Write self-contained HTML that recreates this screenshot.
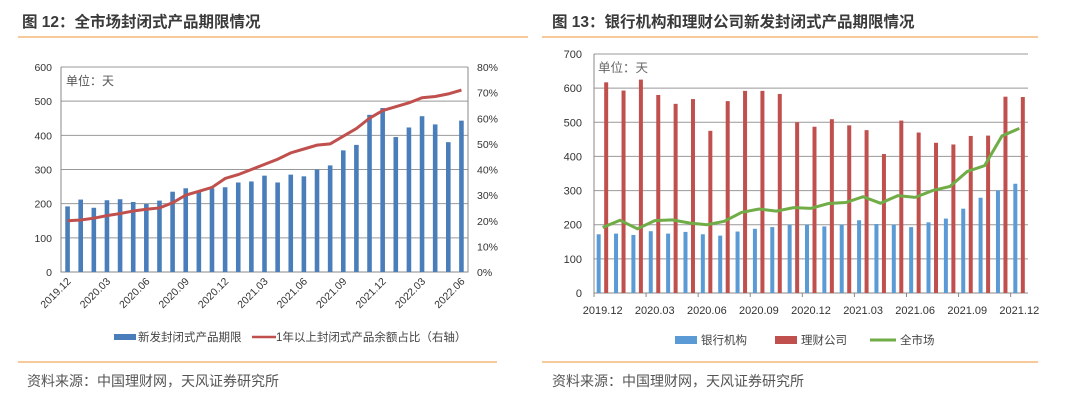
<!DOCTYPE html>
<html><head><meta charset="utf-8"><style>
body{margin:0;background:#fff;width:1080px;height:415px;overflow:hidden;font-family:"Liberation Sans","Noto Sans CJK SC",sans-serif}
svg text{font-family:"Liberation Sans","Noto Sans CJK SC",sans-serif}
</style></head><body>
<svg id="s" width="1080" height="415" xmlns="http://www.w3.org/2000/svg">
<text x="22" y="27" font-size="15.5" font-weight="bold" fill="#3a3a3a">图 12：全市场封闭式产品期限情况</text>
<line x1="18" y1="37" x2="528" y2="37" stroke="#f5b87a" stroke-width="1.5"/>
<text x="552" y="27" font-size="15.5" font-weight="bold" fill="#3a3a3a">图 13：银行机构和理财公司新发封闭式产品期限情况</text>
<line x1="542" y1="37" x2="1038" y2="37" stroke="#f5b87a" stroke-width="1.5"/>
<line x1="18" y1="362" x2="497" y2="362" stroke="#f5b87a" stroke-width="1.5"/>
<line x1="542" y1="362" x2="1038" y2="362" stroke="#f5b87a" stroke-width="1.5"/>
<text x="27" y="386" font-size="14" fill="#555">资料来源：中国理财网，天风证券研究所</text>
<text x="552" y="386" font-size="14" fill="#555">资料来源：中国理财网，天风证券研究所</text>
<g id="L"></g><g id="R"></g>
</svg>
<script>
const NS="http://www.w3.org/2000/svg";
function mk(p,t,a,txt){const e=document.createElementNS(NS,t);for(const k in a)e.setAttribute(k,a[k]);if(txt!==undefined)e.textContent=txt;p.appendChild(e);return e;}
// Left chart data
const leftMonths=["2019.12","2020.01","2020.02","2020.03","2020.04","2020.05","2020.06","2020.07","2020.08","2020.09","2020.10","2020.11","2020.12","2021.01","2021.02","2021.03","2021.04","2021.05","2021.06","2021.07","2021.08","2021.09","2021.10","2021.11","2021.12","2022.01","2022.02","2022.03","2022.04","2022.05","2022.06"];
const leftTerm=[192,212,188,210,213,205,199,209,235,245,238,245,248,262,265,282,262,285,280,300,312,356,372,460,480,395,423,456,432,380,443];
const leftShare=[20,20.3,21,22,22.8,23.8,24.5,25,27,30,31.5,33,36.5,38,40,42,44,46.5,48,49.5,50,53,56,60,63,64.5,66,68,68.5,69.5,71];
const leftTicks=[0,100,200,300,400,500,600];
const leftPctTicks=[0,10,20,30,40,50,60,70,80];
// Right chart data
const rightMonths=["2019.12","2020.01","2020.02","2020.03","2020.04","2020.05","2020.06","2020.07","2020.08","2020.09","2020.10","2020.11","2020.12","2021.01","2021.02","2021.03","2021.04","2021.05","2021.06","2021.07","2021.08","2021.09","2021.10","2021.11","2021.12"];
const bankTerm=[172,174,170,181,174,179,172,168,180,188,193,200,200,195,200,213,202,200,193,207,218,247,279,300,320];
const wmcTerm=[617,593,625,580,554,568,475,562,592,592,583,500,487,509,491,477,407,505,470,440,435,460,461,575,574];
const marketTerm=[192,213,188,212,214,205,200,210,236,246,240,250,248,262,265,282,263,285,280,300,312,356,373,460,482];
const rightTicks=[0,100,200,300,400,500,600,700];

// ---- Left
(function(){
const g=document.getElementById('L');
const x0=61,x1=468,yT=67,yB=272,n=leftMonths.length,step=(x1-x0)/n;
const y=v=>yB-(v/600)*(yB-yT), y2=v=>yB-(v/80)*(yB-yT), xc=i=>x0+step*(i+0.5);
leftTicks.forEach(t=>{
 if(t>0){const l=mk(g,'line',{x1:x0,x2:x1,y1:y(t),y2:y(t),stroke:'#999','stroke-width':1});
 }
 const tx=mk(g,'text',{x:x0-9,y:y(t)+4,'font-size':10.5,'text-anchor':'end',fill:'#333'},t);
 
});
leftPctTicks.forEach(t=>{
 const tx=mk(g,'text',{x:x1+9,y:y2(t)+4,'font-size':10.5,fill:'#333'},t+'%');
 
});
const ax=mk(g,'path',{d:`M${x0},${yT}V${yB}H${x1}V${yT}`,fill:'none',stroke:'#888'});

leftTerm.forEach((v,i)=>{
 const r=mk(g,'rect',{x:xc(i)-2.3,y:y(v),width:4.6,height:yB-y(v),fill:'#4a7ebb'});
 
});
const ln=mk(g,'polyline',{points:leftShare.map((v,i)=>xc(i)+','+y2(v)).join(' '),fill:'none',stroke:'#c0504d','stroke-width':3});

leftMonths.forEach((m,i)=>{if(i%3)return;
 const tx=mk(g,'text',{transform:`translate(${xc(i)+4},${yB+10}) rotate(-45)`,'font-size':10.5,'text-anchor':'end',fill:'#333'},m);
 
});
const u=mk(g,'text',{x:66,y:85,'font-size':12,fill:'#555'},'单位：天');
const lb=mk(g,'rect',{x:114,y:334,width:22,height:6,fill:'#4a7ebb'});
const lt=mk(g,'text',{x:138,y:341,'font-size':11.5,fill:'#444'},'新发封闭式产品期限');
const ll=mk(g,'line',{x1:252,x2:276,y1:337,y2:337,stroke:'#c0504d','stroke-width':2.5});
const lt2=mk(g,'text',{x:276,y:341,'font-size':11.5,fill:'#444'},'1年以上封闭式产品余额占比（右轴）');
})();

// ---- Right
(function(){
const g=document.getElementById('R');
const x0=594,x1=1028,yT=54,yB=293,n=rightMonths.length,step=(x1-x0)/n;
const y=v=>yB-(v/700)*(yB-yT), xc=i=>x0+step*(i+0.5);
rightTicks.forEach(t=>{
 if(t>0){const l=mk(g,'line',{x1:x0,x2:x1,y1:y(t),y2:y(t),stroke:'#999','stroke-width':1});
 }
 const tx=mk(g,'text',{x:x0-12,y:y(t)+4,'font-size':11,'text-anchor':'end',fill:'#333'},t);
 
});
const ax=mk(g,'path',{d:`M${x0},${yT}V${yB}H${x1}`,fill:'none',stroke:'#888'});

bankTerm.forEach((v,i)=>{
 const r=mk(g,'rect',{x:xc(i)-6,y:y(v),width:4,height:yB-y(v),fill:'#5b9bd5'});
 
});
wmcTerm.forEach((v,i)=>{
 const r=mk(g,'rect',{x:xc(i)+1.5,y:y(v),width:4,height:yB-y(v),fill:'#c0504d'});
 
});
const ln=mk(g,'polyline',{points:marketTerm.map((v,i)=>xc(i)+','+y(v)).join(' '),fill:'none',stroke:'#70ad47','stroke-width':3});

rightMonths.forEach((m,i)=>{if(i%3)return;
 const tk=mk(g,'line',{x1:x0+step*i,x2:x0+step*i,y1:yB,y2:yB+4,stroke:'#888'});
 const tx=mk(g,'text',{x:xc(i),y:yB+21,'font-size':11,'text-anchor':'middle',fill:'#333'},m);
 
});
const u=mk(g,'text',{x:598,y:72,'font-size':12.5,fill:'#666'},'单位：天');
const a=mk(g,'rect',{x:675,y:336,width:22,height:8,fill:'#5b9bd5'});
const at=mk(g,'text',{x:701,y:344,'font-size':11.5,fill:'#444'},'银行机构');
const b=mk(g,'rect',{x:775,y:336,width:22,height:8,fill:'#c0504d'});
const bt=mk(g,'text',{x:801,y:344,'font-size':11.5,fill:'#444'},'理财公司');
const c=mk(g,'line',{x1:870,x2:896,y1:340,y2:340,stroke:'#70ad47','stroke-width':3});
const ct=mk(g,'text',{x:900,y:344,'font-size':11.5,fill:'#444'},'全市场');
})();
</script>
</body></html>
